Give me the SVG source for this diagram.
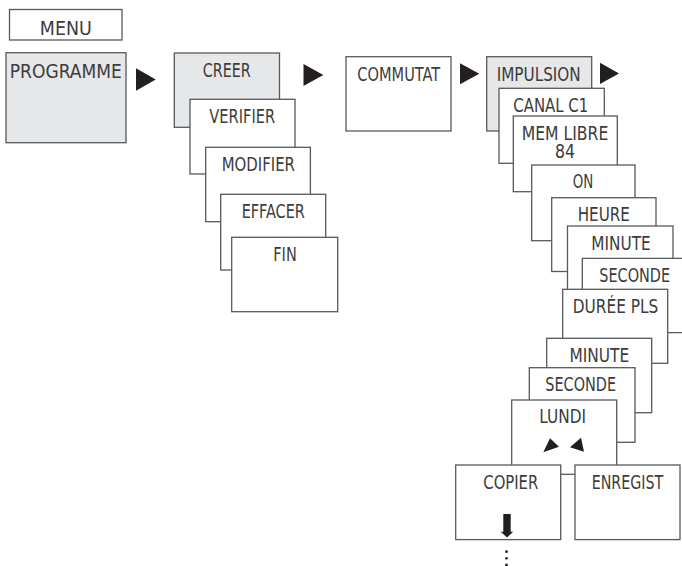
<svg xmlns="http://www.w3.org/2000/svg" width="682" height="566" viewBox="0 0 682 566">
<style>
rect.b,path.b{fill:#ffffff;stroke:#58595b;stroke-width:1.3}
rect.g{fill:#e6e7e8;stroke:#58595b;stroke-width:1.3}
text{font-family:"DejaVu Sans Condensed","DejaVu Sans","Liberation Sans",sans-serif;font-stretch:condensed;font-size:19.5px;fill:#3c3c3c;text-anchor:middle}
.tri{fill:#231f20}
</style>
<rect width="682" height="566" fill="#ffffff"/>
<g id="menu"><rect class="b" x="9.5" y="9.5" width="112.5" height="30.5"/><text x="65.8" y="35" textLength="52" lengthAdjust="spacingAndGlyphs">MENU</text></g>
<g id="programme"><rect class="g" x="6" y="52.7" width="120" height="90"/><text x="65.8" y="78" textLength="112" lengthAdjust="spacingAndGlyphs">PROGRAMME</text></g>
<g id="creer"><rect class="g" x="174.3" y="53" width="105.2" height="74.3"/><text x="226.7" y="77" textLength="48" lengthAdjust="spacingAndGlyphs">CREER</text></g>
<g id="verifier"><rect class="b" x="190" y="99.3" width="105" height="74.7"/><text x="242.2" y="122.8" textLength="65.7" lengthAdjust="spacingAndGlyphs">VERIFIER</text></g>
<g id="modifier"><rect class="b" x="205.7" y="147.3" width="104.7" height="74.4"/><text x="258.3" y="170.8" textLength="73.3" lengthAdjust="spacingAndGlyphs">MODIFIER</text></g>
<g id="effacer"><rect class="b" x="220.7" y="194.3" width="105" height="75.7"/><text x="273.3" y="217.8" textLength="63.3" lengthAdjust="spacingAndGlyphs">EFFACER</text></g>
<g id="fin"><rect class="b" x="231.7" y="237.3" width="106" height="74.4"/><text x="285" y="261" textLength="23.4" lengthAdjust="spacingAndGlyphs">FIN</text></g>
<g id="commutat"><rect class="b" x="346" y="56.7" width="105" height="74.3"/><text x="398.7" y="80.7" textLength="82.7" lengthAdjust="spacingAndGlyphs">COMMUTAT</text></g>
<g id="impulsion"><rect class="g" x="486.7" y="56.7" width="105" height="74.3"/><text x="538.7" y="80.7" textLength="84" lengthAdjust="spacingAndGlyphs">IMPULSION</text></g>
<g id="canal"><rect class="b" x="499" y="88.3" width="105.3" height="75"/><text x="550.8" y="111.7" textLength="75" lengthAdjust="spacingAndGlyphs">CANAL C1</text></g>
<g id="memlibre"><rect class="b" x="513.3" y="116" width="104" height="75.7"/><text x="565" y="140" textLength="86.6" lengthAdjust="spacingAndGlyphs">MEM LIBRE</text><text x="565" y="157.5" textLength="20" lengthAdjust="spacingAndGlyphs">84</text></g>
<g id="on"><rect class="b" x="531.7" y="165" width="103.3" height="75.7"/><text x="583" y="188.3" textLength="20.6" lengthAdjust="spacingAndGlyphs">ON</text></g>
<g id="heure"><rect class="b" x="551.7" y="197.7" width="104.3" height="73.8"/><text x="603.8" y="221" textLength="52.3" lengthAdjust="spacingAndGlyphs">HEURE</text></g>
<g id="minute1"><rect class="b" x="567.5" y="226" width="105.5" height="74"/><text x="621" y="249.5" textLength="59.3" lengthAdjust="spacingAndGlyphs">MINUTE</text></g>
<g id="seconde1"><path class="b" d="M682,258.3 H582.3 V332.7 H682"/><text x="634.7" y="281.8" textLength="70.7" lengthAdjust="spacingAndGlyphs">SECONDE</text></g>
<g id="dureepls"><rect class="b" x="562.7" y="289.3" width="105" height="74"/><text x="615.5" y="312.8" textLength="85.6" lengthAdjust="spacingAndGlyphs">DURÉE PLS</text></g>
<g id="minute2"><rect class="b" x="546.7" y="338.3" width="105" height="74.4"/><text x="599.3" y="361.8" textLength="59.7" lengthAdjust="spacingAndGlyphs">MINUTE</text></g>
<g id="seconde2"><rect class="b" x="529.3" y="367.7" width="105.7" height="74.6"/><text x="580.7" y="391.2" textLength="70.7" lengthAdjust="spacingAndGlyphs">SECONDE</text></g>
<g id="lundi"><rect class="b" x="511.7" y="400" width="105" height="74.3"/><text x="562.7" y="423.3" textLength="46.7" lengthAdjust="spacingAndGlyphs">LUNDI</text>
<polygon class="tri" points="550,438.3 543.3,452.3 559,446.7"/><polygon class="tri" points="581,437.7 570,447.3 584,451.7"/></g>
<g id="copier"><rect class="b" x="455.7" y="465" width="105" height="74.6"/><text x="510.8" y="488.5" textLength="55" lengthAdjust="spacingAndGlyphs">COPIER</text>
<polygon class="tri" points="503.3,514 510.7,514 510.7,531.7 513.3,531.7 507,537.5 500.7,531.7 503.3,531.7"/></g>
<g id="enregist"><rect class="b" x="575" y="465" width="105" height="74.6"/><text x="627.5" y="488.5" textLength="71.6" lengthAdjust="spacingAndGlyphs">ENREGIST</text></g>
<g id="connectors">
<polygon class="tri" points="136,68.3 155.7,79.5 136,90.7"/>
<polygon class="tri" points="303.5,64 323.3,75 303.5,86"/>
<polygon class="tri" points="460,63.3 479.3,73.8 460,84.3"/>
<polygon class="tri" points="600,62.7 619,73.4 600,84"/>
<circle class="tri" cx="506.5" cy="551.7" r="1.4"/>
<circle class="tri" cx="506.5" cy="558.3" r="1.4"/>
<circle class="tri" cx="506.5" cy="565" r="1.4"/>
</g>
</svg>
